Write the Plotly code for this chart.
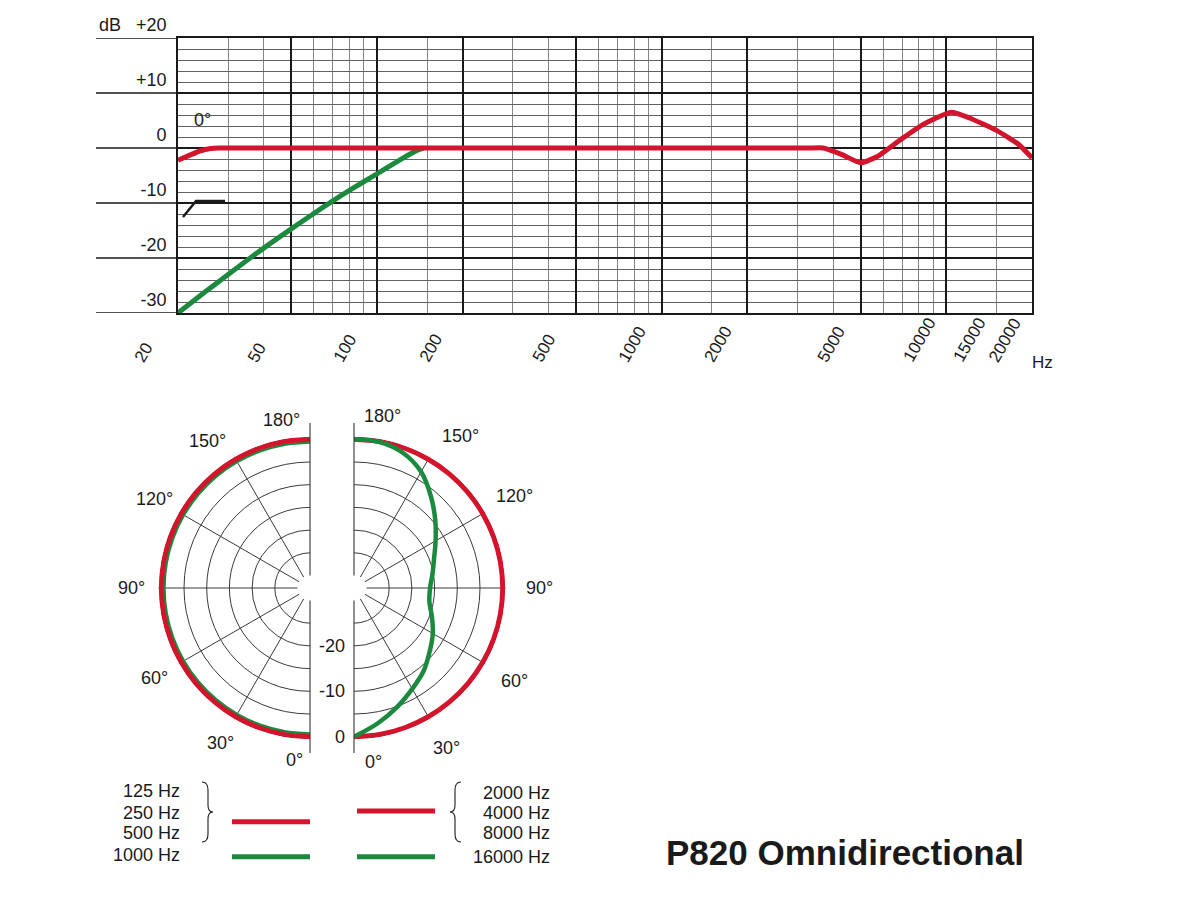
import numpy as np
import plotly.graph_objects as go

W, H = 1200, 900


def px(x):
    return x / W


def py(y):
    return 1 - y / H


RED = "#d2142c"
GREEN = "#1b8a3e"
INK = "#1a1a1a"
MINOR_X = "#858585"
MINOR_Y = "#626262"
POLAR_GRID = "#3a3a3a"
FONT = "Liberation Sans, Arial, Helvetica, sans-serif"

# ---------------- frequency response (top chart) ----------------
resp_freq = [20, 22, 24, 26, 28, 100, 1000, 2500, 3300, 3700, 4300, 5000, 5700, 6900, 8300, 10400, 12000, 15000, 18000, 20000]
resp_db = [-2.2, -1.3, -0.5, -0.1, 0, 0, 0, 0, 0, 0, -1.2, -2.7, -1.6, 1.5, 4.3, 6.5, 5.5, 3.2, 0.6, -1.8]
cut_freq = [20, 25, 30, 40, 50, 60, 70, 80, 100, 120, 140, 146]
cut_db = [-30, -26.1, -23.0, -18.2, -14.7, -11.9, -9.6, -7.7, -4.7, -2.2, -0.3, 0]

freq_ticks = [20, 50, 100, 200, 500, 1000, 2000, 5000, 10000, 15000, 20000]
freq_major = [20, 50, 100, 200, 500, 1000, 2000, 5000, 10000, 20000]
freq_minor = [30, 40, 60, 70, 80, 90, 150, 300, 400, 600, 700, 800, 900, 1500,
              3000, 4000, 6000, 7000, 8000, 9000, 15000]
db_ticks = [-30, -20, -10, 0, 10, 20]
db_ticktext = ["-30", "-20", "-10", "0", "+10", "+20"]

# ---------------- polar patterns (bottom) ----------------
polar_theta = [0, 10, 20, 30, 40, 50, 60, 70, 80, 90, 100, 110, 120, 130, 140, 150, 160, 170, 180]
low_red_r = [0, 0, 0, 0, 0, 0, 0, 0, 0, 0, 0, 0, 0, 0, 0, 0, 0, 0, 0]           # 125/250/500 Hz
low_green_r = [-0.7, -0.7, -0.7, -0.7, -0.7, -0.7, -0.7, -0.7, -0.7, -0.7,
               -0.7, -0.7, -0.7, -0.7, -0.7, -0.7, -0.7, -0.7, -0.7]           # 1000 Hz
high_red_r = [0, 0, 0, 0, 0, 0, 0, 0, 0, 0, 0, 0, 0, 0, 0, 0, 0, 0, 0]          # 2000/4000/8000 Hz
high_green_r = [0, -2.5, -4.9, -7.1, -8.9, -11.0, -12.7, -14.5, -15.9, -16.0,
                -15.2, -14.0, -12.0, -9.4, -6.4, -3.2, -1.1, -0.1, 0]          # 16000 Hz

ring_vals = [-25, -20, -15, -10, -5, 0]
spoke_vals = [30, 60, 90, 120, 150]
angle_labels = [0, 30, 60, 90, 120, 150, 180]
radial_labels = [0, -10, -20]

legend_left = ["125 Hz", "250 Hz", "500 Hz", "1000 Hz"]
legend_right = ["2000 Hz", "4000 Hz", "8000 Hz", "16000 Hz"]

# geometry of the polar halves (pixels)
R = 148.7          # radius of the 0 dB circle
HOLE = 12.5        # radius of the -30 dB (hole) circle
RMIN, RMAX = -30, 0.6   # radial range; a small headroom keeps the 0 dB line unclipped
CY = 588
CX_L = 310
CX_R = 354


def rpix(db):
    return HOLE + (db - RMIN) / (0 - RMIN) * (R - HOLE)


R_DOM = rpix(RMAX)


def text_ann(text, x, y, size=18, xanchor="center", yanchor="middle", **kw):
    d = dict(text=text, xref="paper", yref="paper", x=px(x), y=py(y), showarrow=False,
             xanchor=xanchor, yanchor=yanchor, font=dict(size=size, color=INK, family=FONT))
    d.update(kw)
    return d


fig = go.Figure()

fig.add_trace(go.Scatter(x=cut_freq, y=cut_db, mode="lines",
                         line=dict(color=GREEN, width=5, shape="spline", smoothing=0.6),
                         hoverinfo="skip"))
fig.add_trace(go.Scatter(x=resp_freq, y=resp_db, mode="lines",
                         line=dict(color=RED, width=5, shape="spline", smoothing=0.5),
                         hoverinfo="skip"))

# left half uses negative angles so that it opens to the left (counterclockwise axis)
left_theta = [-t for t in polar_theta]
fig.add_trace(go.Scatterpolar(r=low_green_r, theta=left_theta, subplot="polar", mode="lines",
                              line=dict(color=GREEN, width=2.5, shape="spline")))
fig.add_trace(go.Scatterpolar(r=low_red_r, theta=left_theta, subplot="polar", mode="lines",
                              line=dict(color=RED, width=5, shape="spline")))
fig.add_trace(go.Scatterpolar(r=high_red_r, theta=polar_theta, subplot="polar2", mode="lines",
                              line=dict(color=RED, width=5, shape="spline")))
fig.add_trace(go.Scatterpolar(r=high_green_r, theta=polar_theta, subplot="polar2", mode="lines",
                              line=dict(color=GREEN, width=4.5, shape="spline")))

shapes = []
annotations = []

# extensions of major horizontal lines to the left
for v in db_ticks:
    shapes.append(dict(type="line", xref="paper", yref="y", x0=px(96), x1=px(178), y0=v, y1=v,
                       line=dict(color=INK, width=1.6)))

# slanted tick lines and labels below the frequency axis
for f in freq_ticks:
    shapes.append(dict(type="line", xref="x", yref="y", xsizemode="pixel", ysizemode="pixel",
                       xanchor=np.log10(f), yanchor=-30, x0=0, x1=-32, y0=0, y1=-55,
                       line=dict(color=INK, width=1.3)))
    annotations.append(dict(text=str(f), xref="x", yref="paper", x=np.log10(f), y=py(368),
                            xanchor="left", yanchor="bottom", xshift=-50, textangle=-60,
                            showarrow=False, font=dict(size=17, color=INK, family=FONT)))

# white label boxes inside the grid
for y0, y1 in [(3, 7), (-13, -11)]:
    shapes.append(dict(type="rect", xref="x", yref="y", x0=np.log10(20), x1=np.log10(29.6),
                       y0=y0, y1=y1, fillcolor="white", line=dict(width=0), layer="between"))

# bass-cut symbol
shapes.append(dict(type="path", xref="paper", yref="paper",
                   path=f"M {px(183)},{py(217)} L {px(196)},{py(201)} L {px(225)},{py(201)}",
                   line=dict(color=INK, width=2.5)))

annotations += [
    text_ann("dB", 110, 25),
    text_ann("Hz", 1042, 362, size=17),
    text_ann("0°", 202, 120),
]

# polar diameters (with gap at hole)
for cx in (CX_L, CX_R):
    for ya, yb in [(423, CY - HOLE), (CY + HOLE, 753)]:
        shapes.append(dict(type="line", xref="paper", yref="paper", x0=px(cx), x1=px(cx),
                           y0=py(ya), y1=py(yb), line=dict(color="#333333", width=1.1)))

# polar angle labels
for a in angle_labels:
    txt = f"{a}°"
    if a == 0:
        pos_l = (CX_L - 16, CY + 172)
        pos_r = (CX_R + 19, CY + 174)
    elif a == 180:
        pos_l = (CX_L - 29, CY - 168)
        pos_r = (CX_R + 28, CY - 172)
    else:
        ap = np.deg2rad(145 if a == 150 else a)
        pos_l = (CX_L - 179 * np.sin(ap), CY + 179 * np.cos(ap))
        pos_r = (CX_R + 185 * np.sin(ap), CY + 185 * np.cos(ap))
    for p in (pos_l, pos_r):
        annotations.append(text_ann(txt, p[0], p[1]))

for v in radial_labels:
    annotations.append(text_ann(str(v), CX_R - 7, CY + rpix(v), xanchor="right"))

# legend
left_y = [790.7, 812.7, 833.3, 855]
right_y = [792.7, 812.7, 833.3, 856.7]
for t, yy in zip(legend_left, left_y):
    annotations.append(text_ann(t, 182, yy, xanchor="right"))
for t, yy in zip(legend_right, right_y):
    annotations.append(text_ann(t, 552, yy, xanchor="right"))

for (xa, xb, yy, col) in [(232, 310, 821.7, RED), (232, 310, 856.7, GREEN),
                          (357, 435, 811, RED), (357, 435, 856.7, GREEN)]:
    shapes.append(dict(type="line", xref="paper", yref="paper", x0=px(xa), x1=px(xb),
                       y0=py(yy), y1=py(yy), line=dict(color=col, width=5)))


def brace(x_out, x_mid, x_tip, y0, y1):
    ym = (y0 + y1) / 2
    pts = [
        f"M {px(x_out)},{py(y0)}",
        f"Q {px(x_mid)},{py(y0)} {px(x_mid)},{py(y0 + 8)}",
        f"L {px(x_mid)},{py(ym - 7)}",
        f"Q {px(x_mid)},{py(ym)} {px(x_tip)},{py(ym)}",
        f"Q {px(x_mid)},{py(ym)} {px(x_mid)},{py(ym + 7)}",
        f"L {px(x_mid)},{py(y1 - 8)}",
        f"Q {px(x_mid)},{py(y1)} {px(x_out)},{py(y1)}",
    ]
    return dict(type="path", xref="paper", yref="paper", path=" ".join(pts),
                line=dict(color=INK, width=1.1))


shapes.append(brace(202, 208, 213, 782, 842))
shapes.append(brace(461, 455, 450, 782, 842))

annotations.append(text_ann("<b>P820 Omnidirectional</b>", 844.5, 852.5, size=35))

polar_common = dict(
    bgcolor="white",
    hole=HOLE / R_DOM,
    radialaxis=dict(range=[RMIN, RMAX], tickvals=ring_vals, showticklabels=False, ticks="",
                    showline=False, gridcolor=POLAR_GRID, gridwidth=1),
)

# left half spokes: the same angles expressed both as negative and wrapped values,
# whichever lies inside the sector's angular range is kept by the library
left_spokes = [-t for t in spoke_vals] + [(-t) % 360 for t in spoke_vals]

fig.update_layout(
    width=W, height=H,
    autosize=False,
    margin=dict(l=0, r=0, t=0, b=0, pad=0, autoexpand=False),
    paper_bgcolor="white", plot_bgcolor="white",
    showlegend=False,
    font=dict(family=FONT, color=INK),
    xaxis=dict(type="log", range=[np.log10(20), np.log10(20000)], domain=[px(178), px(1032)],
               tickvals=freq_major, showticklabels=False, ticks="", automargin=False,
               showgrid=True, gridcolor=INK, gridwidth=1.6,
               minor=dict(tickvals=freq_minor, showgrid=True, gridcolor=MINOR_X, gridwidth=1, ticks=""),
               showline=True, mirror=True, linecolor=INK, linewidth=1.8, zeroline=False),
    yaxis=dict(range=[-30, 20], domain=[py(313), py(38)], automargin=False,
               tickvals=db_ticks, ticktext=db_ticktext, ticks="",
               tickfont=dict(size=18, color=INK, family=FONT),
               ticklabelshift=-13, ticklabelstandoff=6,
               showgrid=True, gridcolor=INK, gridwidth=1.6,
               minor=dict(dtick=2, tick0=0, showgrid=True, gridcolor=MINOR_Y, gridwidth=1, ticks=""),
               showline=True, mirror=True, linecolor=INK, linewidth=1.6, zeroline=False),
    polar=dict(
        domain=dict(x=[px(CX_L - R_DOM), px(CX_L)], y=[py(CY + R_DOM), py(CY - R_DOM)]),
        sector=[90, 270],
        angularaxis=dict(rotation=270, direction="counterclockwise",
                         tickvals=left_spokes,
                         showticklabels=False, ticks="", gridcolor=POLAR_GRID, gridwidth=1,
                         showline=False),
        **polar_common,
    ),
    polar2=dict(
        domain=dict(x=[px(CX_R), px(CX_R + R_DOM)], y=[py(CY + R_DOM), py(CY - R_DOM)]),
        sector=[-90, 90],
        angularaxis=dict(rotation=270, direction="counterclockwise", tickvals=spoke_vals,
                         showticklabels=False, ticks="", gridcolor=POLAR_GRID, gridwidth=1,
                         showline=False),
        **polar_common,
    ),
    shapes=shapes,
    annotations=annotations,
)

fig.write_html("out.html")
